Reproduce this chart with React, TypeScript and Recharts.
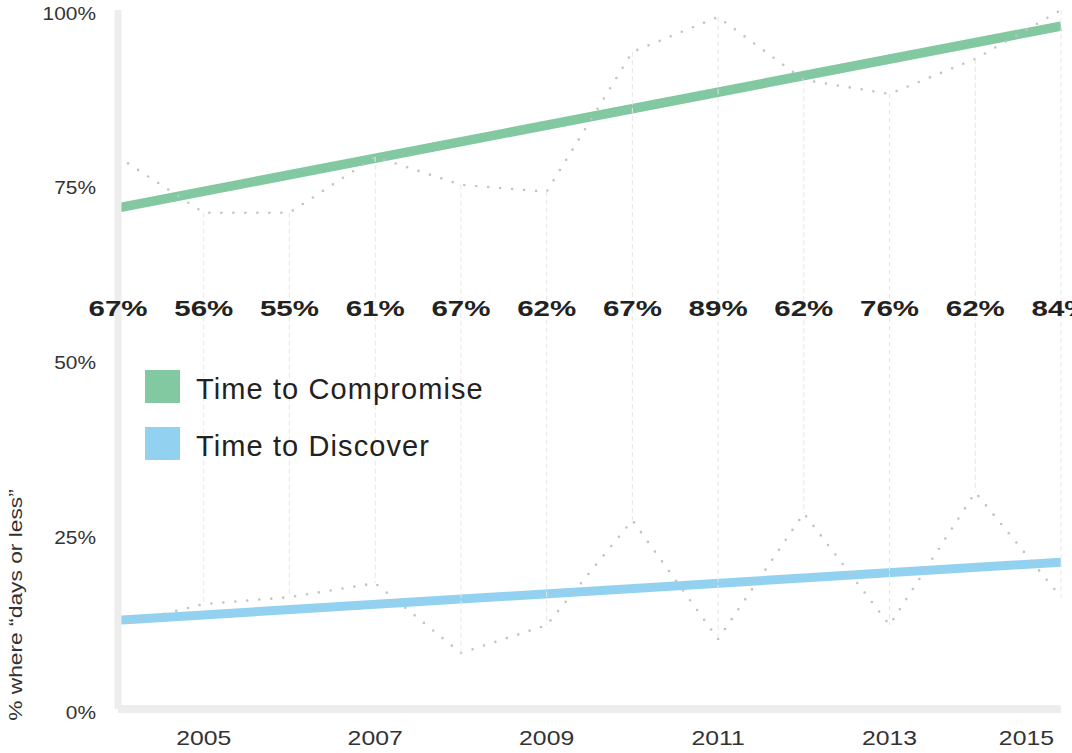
import React from 'react';
import { ComposedChart, Line, XAxis, YAxis, ReferenceLine, Legend, LabelList } from 'recharts';

// share of breaches where each phase took "days or less", per year
const years = [2004, 2005, 2006, 2007, 2008, 2009, 2010, 2011, 2012, 2013, 2014, 2015];
const compromise = [79, 71, 71, 79, 75, 74, 94, 99, 90, 88, 93, 100];
const discover = [12, 15, 16, 18, 8, 12, 27, 10, 28, 12, 31, 16];

// straight trend lines, start and end only
const trendYears = [2004, 2015];
const compromiseTrend = [71.7, 97.7];
const discoverTrend = [12.7, 21];

const yearTicks = [2005, 2007, 2009, 2011, 2013, 2015];
const percentTicks = [0, 25, 50, 75, 100];

const GREEN = '#82c8a0';
const BLUE = '#93d1f0';
const DOT = '#c2c2c2';
const DROP = '#e6e6e6';
const AXIS = '#ededed';
const TEXT = '#333333';
const FONT = '"Liberation Sans", Arial, Helvetica, sans-serif';

const GAP_BASELINE = 316;

const rows = years.map((year, i) => ({
  year,
  compromise: compromise[i],
  discover: discover[i],
  gap: compromise[i] - discover[i],
}));

const trendRows = trendYears.map((year, i) => ({
  year,
  compromiseTrend: compromiseTrend[i],
  discoverTrend: discoverTrend[i],
}));

function YearTick({ x, y, payload }: any) {
  const last = payload.value === years[years.length - 1];
  return (
    <text
      x={0}
      y={0}
      transform={`translate(${last ? x - 2 : x} ${y + 36}) scale(1.24 1)`}
      textAnchor={last ? 'end' : 'middle'}
      fontFamily={FONT}
      fontSize={20}
      fill={TEXT}
    >
      {payload.value}
    </text>
  );
}

function PercentTick({ x, y, payload }: any) {
  return (
    <text
      x={0}
      y={0}
      transform={`translate(${x - 22} ${y + 9.5}) scale(1.13 1)`}
      textAnchor="end"
      fontFamily={FONT}
      fontSize={18.5}
      fill={TEXT}
    >
      {`${payload.value}%`}
    </text>
  );
}

function AxisTitle({ viewBox }: any) {
  const cx = viewBox.x + 15;
  const cy = viewBox.y + viewBox.height - 104;
  return (
    <text
      x={0}
      y={0}
      transform={`translate(${cx} ${cy}) rotate(-90) scale(1.2 1)`}
      textAnchor="middle"
      dominantBaseline="central"
      fontFamily={FONT}
      fontSize={19}
      fill={TEXT}
    >
      % where “days or less”
    </text>
  );
}

function GapLabel({ x, value }: any) {
  return (
    <text
      x={0}
      y={0}
      transform={`translate(${x} ${GAP_BASELINE}) scale(1.34 1)`}
      textAnchor="middle"
      fontFamily={FONT}
      fontWeight="bold"
      fontSize={22}
      fill="#222"
    >
      {`${value}%`}
    </text>
  );
}

function SeriesLegend({ payload }: any) {
  const entries = (payload || []).filter((entry: any) => entry.type !== 'none');
  return (
    <div>
      {entries.map((entry: any) => (
        <div
          key={entry.value}
          style={{ display: 'flex', alignItems: 'center', height: 33, marginBottom: 24 }}
        >
          <span style={{ width: 35, height: 33, background: entry.color, display: 'inline-block' }} />
          <span
            style={{
              marginLeft: 16,
              fontFamily: FONT,
              fontSize: 29,
              lineHeight: '33px',
              letterSpacing: 1.1,
              color: '#222',
              position: 'relative',
              top: 3,
              whiteSpace: 'nowrap',
            }}
          >
            {entry.value}
          </span>
        </div>
      ))}
    </div>
  );
}

export default function App() {
  return (
    <div style={{ position: 'absolute', left: 0, top: 0, width: 1072, height: 753, background: '#fff' }}>
      <ComposedChart
        width={1072}
        height={753}
        data={rows}
        margin={{ top: 10, right: 11, bottom: 0, left: 0 }}
      >
        <XAxis
          dataKey="year"
          type="number"
          domain={[2004, 2015]}
          ticks={yearTicks}
          height={44}
          tickLine={false}
          tickSize={0}
          tickMargin={0}
          axisLine={{ stroke: AXIS, strokeWidth: 8 }}
          tick={<YearTick />}
        />
        <YAxis
          type="number"
          domain={[0, 100]}
          ticks={percentTicks}
          width={118}
          tickLine={false}
          tickSize={0}
          tickMargin={0}
          axisLine={{ stroke: AXIS, strokeWidth: 7 }}
          tick={<PercentTick />}
          label={<AxisTitle />}
        />
        <Legend
          layout="vertical"
          align="center"
          verticalAlign="middle"
          wrapperStyle={{ left: 145, top: 370, width: 'auto' }}
          content={<SeriesLegend />}
        />
        <Line
          data={trendRows}
          dataKey="compromiseTrend"
          name="Time to Compromise"
          stroke={GREEN}
          strokeWidth={9.5}
          dot={false}
          activeDot={false}
          isAnimationActive={false}
        />
        <Line
          data={trendRows}
          dataKey="discoverTrend"
          name="Time to Discover"
          stroke={BLUE}
          strokeWidth={9}
          dot={false}
          activeDot={false}
          isAnimationActive={false}
        />
        <Line
          dataKey="compromise"
          stroke={DOT}
          strokeWidth={2.6}
          strokeDasharray="0 12"
          strokeLinecap="round"
          dot={false}
          activeDot={false}
          legendType="none"
          isAnimationActive={false}
        >
          <LabelList dataKey="gap" content={<GapLabel />} />
        </Line>
        <Line
          dataKey="discover"
          stroke={DOT}
          strokeWidth={2.6}
          strokeDasharray="0 12"
          strokeLinecap="round"
          dot={false}
          activeDot={false}
          legendType="none"
          isAnimationActive={false}
        />
        {rows.map((r) => (
          <ReferenceLine
            key={r.year}
            segment={[
              { x: r.year, y: r.compromise },
              { x: r.year, y: r.discover },
            ]}
            stroke={DROP}
            strokeWidth={1}
            strokeDasharray="5 3"
          />
        ))}
      </ComposedChart>
    </div>
  );
}
